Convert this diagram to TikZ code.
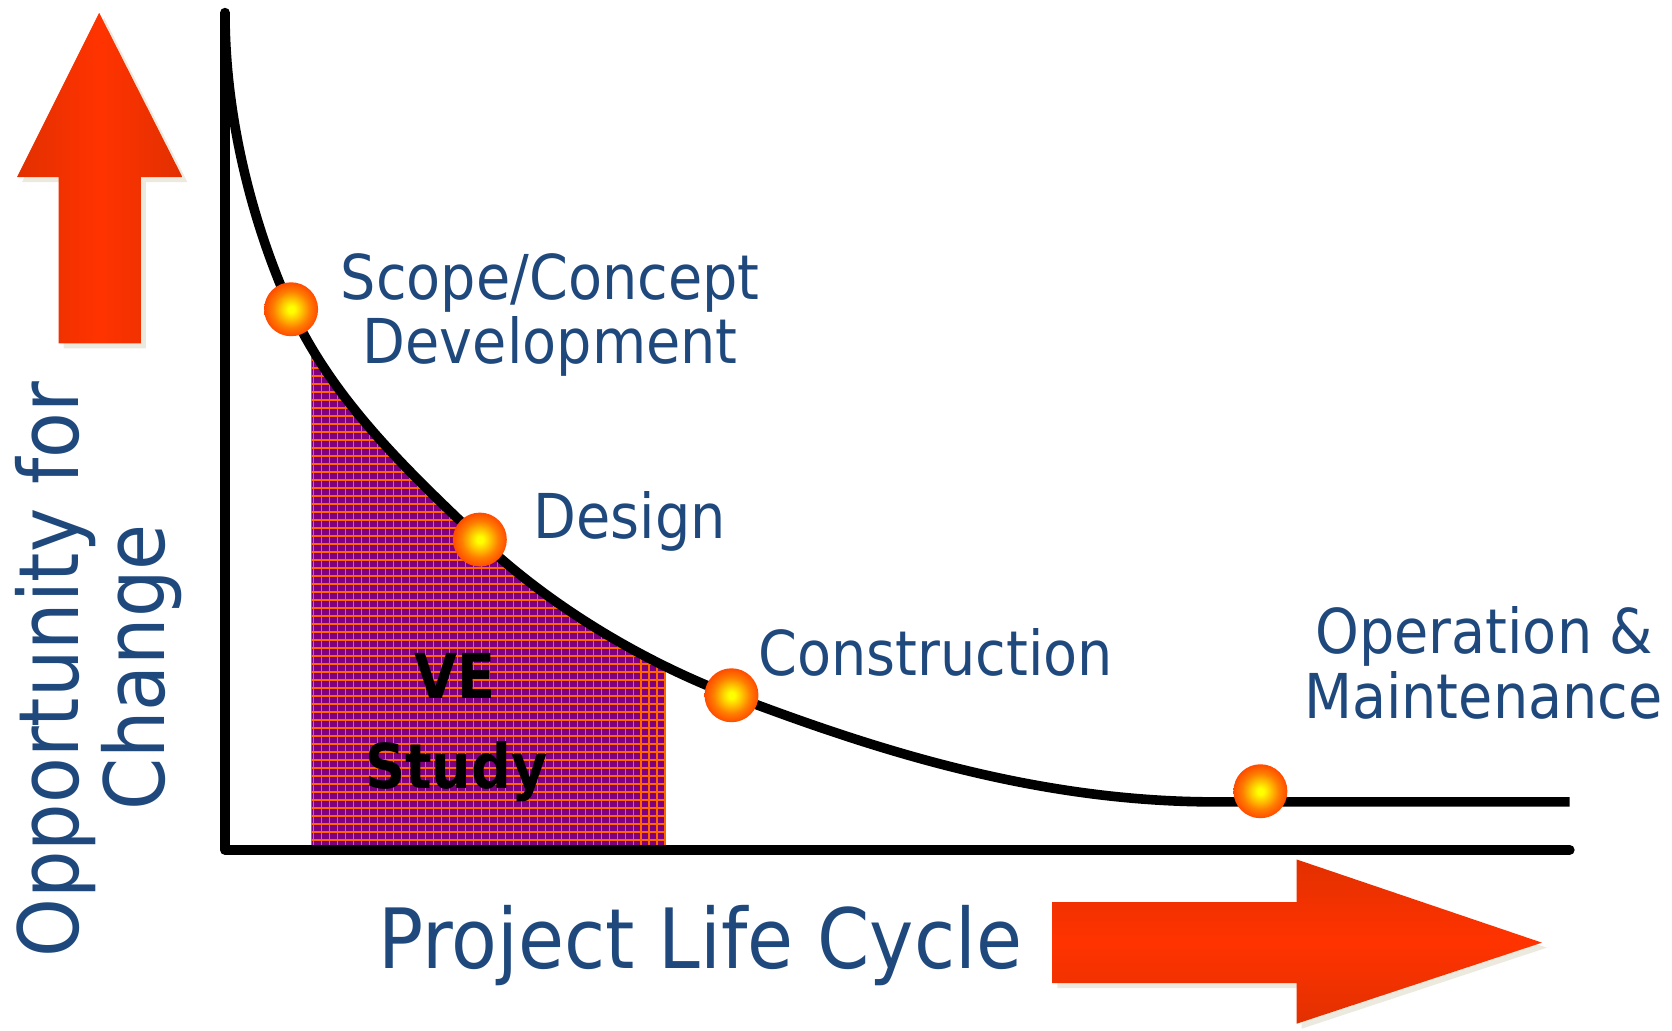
\documentclass[tikz,border=0pt]{standalone}
\usepackage{fontspec}
\newfontfamily\lbl[FakeStretch=0.9]{DejaVu Sans}
\definecolor{txt}{RGB}{31,73,125}
\definecolor{arrred}{RGB}{255,51,0}
\definecolor{arrdark}{RGB}{226,48,0}
\definecolor{shadowc}{RGB}{236,233,222}
\definecolor{vepurple}{RGB}{128,0,128}
\definecolor{veorange}{RGB}{255,102,0}
\definecolor{ballY}{RGB}{255,255,0}
\definecolor{ballA}{RGB}{255,200,0}
\definecolor{ballO}{RGB}{255,125,0}
\definecolor{ballR}{RGB}{255,75,0}
\definecolor{ballE}{RGB}{245,50,0}
\pgfdeclareradialshading{ball}{\pgfpoint{0bp}{0bp}}{color(0bp)=(ballY); color(3bp)=(ballY); color(9bp)=(ballA); color(17bp)=(ballO); color(25bp)=(ballR); color(31bp)=(ballE); color(50bp)=(ballE)}
\begin{document}
\begin{tikzpicture}[x=0.5pt,y=-0.5pt,
  lbl/.style={text=txt, font=\lbl\fontsize{29}{29}\selectfont, inner sep=0pt},
  big/.style={text=txt, font=\lbl\fontsize{39}{39}\selectfont, inner sep=0pt},
  vetext/.style={text=black, font=\lbl\bfseries\fontsize{29}{29}\selectfont, inner sep=0pt},
  dot/.style={circle, minimum size=25.3pt, inner sep=0pt, shading=ball},
  axisline/.style={line width=4.7pt, line cap=round, line join=round},
  curveline/.style={line width=4.5pt}]
\useasboundingbox (0,0) rectangle (1568,966);

% up arrow
\fill[shadowc] (97.7,16.7) -- (175.7,170.7) -- (136.7,170.7) -- (136.7,326.7) -- (59.7,326.7) -- (59.7,170.7) -- (20.7,170.7) -- cycle;
\shade[left color=arrdark, right color=arrdark, middle color=arrred] (93,12) -- (171,166) -- (132,166) -- (132,322) -- (55,322) -- (55,166) -- (16,166) -- cycle;

% right arrow
\fill[shadowc] (991.7,850.7) -- (1220.7,850.7) -- (1220.7,810.7) -- (1450.7,888.7) -- (1220.7,964.7) -- (1220.7,926.7) -- (991.7,926.7) -- cycle;
\shade[top color=arrdark, bottom color=arrdark, middle color=arrred] (987,846) -- (1216,846) -- (1216,806) -- (1446,884) -- (1216,960) -- (1216,922) -- (987,922) -- cycle;

% VE study hatched area
\begin{scope}
\clip (292,0) rectangle (625,797);
\clip (211,12) .. controls (211,140) and (254,249.2) .. (273,290)
  .. controls (313,376) and (381.1,440.5) .. (450,506)
  .. controls (515.3,568) and (601.9,620) .. (686,652)
  .. controls (816.9,701.7) and (970,752) .. (1140,752)
  -- (1472,752) -- (1472,797) -- (211,797) -- cycle;
\fill[vepurple] (292,0) rectangle (625,797);
\foreach \i in {0,...,45} \draw[veorange, line width=0.85pt] (294+\i*7.5,0) -- (294+\i*7.5,797);
\foreach \j in {0,...,75} \draw[veorange, line width=0.85pt] (292,795-\j*7.5) -- (625,795-\j*7.5);
\end{scope}

% axes
\draw[axisline] (211,12) -- (211,797) -- (1472,797);
% curve
\draw[curveline] (211,12) .. controls (211,140) and (254,249.2) .. (273,290)
  .. controls (313,376) and (381.1,440.5) .. (450,506)
  .. controls (515.3,568) and (601.9,620) .. (686,652)
  .. controls (816.9,701.7) and (970,752) .. (1140,752)
  -- (1472,752);

% phase dots
\node[dot] (scope) at (273,290) {};
\node[dot] (design) at (450,506) {};
\node[dot] (constr) at (686,652) {};
\node[dot] (oper) at (1182,742) {};

% labels
\node[lbl, anchor=base] (l1a) at (516,281) {Scope/Concept};
\node[lbl, anchor=base] (l1b) at (516,341) {Development};
\node[lbl, anchor=base west] (l2) at (500,505) {Design};
\node[lbl, anchor=base west] (l3) at (711,633) {Construction};
\node[lbl, anchor=base] (l4a) at (1392,613) {Operation \&};
\node[lbl, anchor=base] (l4b) at (1391,674) {Maintenance};
\node[vetext, anchor=base] (ve1) at (427,655) {VE};
\node[vetext, anchor=base] (ve2) at (428,739) {Study};
\node[big, anchor=base] (plc) at (657,908) {Project Life Cycle};
\node[big, anchor=base, rotate=90] (opp1) at (74,628) {Opportunity for};
\node[big, anchor=base, rotate=90] (opp2) at (154,626) {Change};
\end{tikzpicture}
\end{document}
